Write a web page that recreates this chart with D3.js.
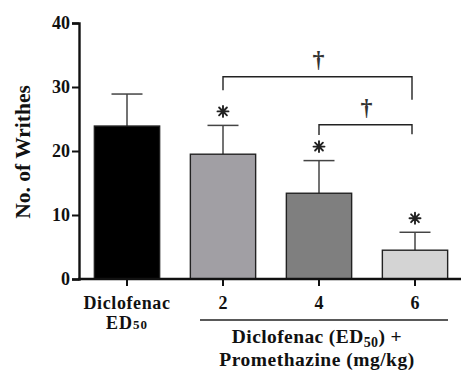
<!DOCTYPE html>
<html>
<head>
<meta charset="utf-8">
<script src="https://cdn.jsdelivr.net/npm/d3@7"></script>
<style>
  body { margin: 0; background: #fff; }
  text { font-family: "Liberation Serif", "Times New Roman", serif; font-weight: bold; fill: #111; }
</style>
</head>
<body>
<div id="chart"></div>
<script>
var groups = ["dic", "p2", "p4", "p6"];
var means = [23.9, 19.5, 13.4, 4.5];
var errs = [5.0, 4.5, 5.1, 2.8];
var fills = ["#000000", "#a19fa4", "#7f7f7f", "#d4d4d4"];
var stars = [false, true, true, true];
var yTicks = [0, 10, 20, 30, 40];
var brackets = [
  { from: "p2", to: "p6", y: 31.6, left: 29.5, right: 28.0 },
  { from: "p4", to: "p6", y: 24.1, left: 22.5, right: 22.6 }
];

var chart = {};
chart.w = 462;
chart.h = 376;

chart.svg = d3.select("#chart")
  .append("svg")
  .attr("width", chart.w)
  .attr("height", chart.h);

chart.x = d3.scaleBand()
  .domain(groups)
  .range([79, 463])
  .paddingInner(0.32)
  .paddingOuter(0.16);

chart.y = d3.scaleLinear()
  .domain([0, 40])
  .range([279, 23]);

var cx = function(d) { return chart.x(d) + chart.x.bandwidth() / 2; };
var g = chart.svg.append("g");

// error bars
g.selectAll(".err")
  .data(groups)
  .enter().append("g")
  .attr("class", "err")
  .each(function(d, i) {
    var top = chart.y(means[i] + errs[i]);
    var s = d3.select(this);
    s.append("line")
      .attr("x1", cx(d)).attr("x2", cx(d))
      .attr("y1", chart.y(means[i])).attr("y2", top)
      .style("stroke", "#444").style("stroke-width", 1.5);
    s.append("line")
      .attr("x1", cx(d) - 15.5).attr("x2", cx(d) + 15.5)
      .attr("y1", top).attr("y2", top)
      .style("stroke", "#444").style("stroke-width", 1.5);
  });

// bars
g.selectAll(".bar")
  .data(groups)
  .enter().append("rect")
  .attr("class", "bar")
  .attr("x", function(d) { return chart.x(d); })
  .attr("width", chart.x.bandwidth())
  .attr("y", function(d, i) { return chart.y(means[i]); })
  .attr("height", function(d, i) { return chart.y(0) - chart.y(means[i]); })
  .style("fill", function(d, i) { return fills[i]; })
  .style("stroke", "#222")
  .style("stroke-width", 1.4);

// asterisks, drawn as 8 spokes
g.selectAll(".star")
  .data(groups.filter(function(d, i) { return stars[i]; }))
  .enter().append("path")
  .attr("class", "star")
  .attr("transform", function(d) {
    var i = groups.indexOf(d);
    return "translate(" + cx(d) + "," + (chart.y(means[i] + errs[i]) - 14) + ")";
  })
  .attr("d", "M0,-5.5V5.5M-5.5,0H5.5M-3.9,-3.9L3.9,3.9M-3.9,3.9L3.9,-3.9")
  .style("stroke", "#222")
  .style("stroke-width", 1.9)
  .style("stroke-linecap", "round");

// brackets
brackets.forEach(function(b) {
  var x1 = cx(b.from);
  var x2 = cx(b.to) - 3;
  var yy = chart.y(b.y);
  g.append("path")
    .attr("d", "M" + x1 + "," + chart.y(b.left) + "V" + yy + "H" + x2 + "V" + chart.y(b.right))
    .style("fill", "none")
    .style("stroke", "#222")
    .style("stroke-width", 1.4);
  g.append("text")
    .attr("x", (x1 + x2) / 2 + 1)
    .attr("y", yy - 10)
    .attr("text-anchor", "middle")
    .style("font-size", "24px")
    .style("fill", "#333")
    .text("\u2020");
});

// y axis
var yAxis = chart.svg.append("g")
  .attr("transform", "translate(79,0)")
  .call(d3.axisLeft(chart.y).tickValues(yTicks).tickSize(7).tickPadding(2));
yAxis.select(".domain").style("stroke", "#111").style("stroke-width", 2.4);
yAxis.selectAll(".tick line").style("stroke", "#111").style("stroke-width", 2);
yAxis.selectAll(".tick text")
  .style("font-size", "18px")
  .style("font-family", "Liberation Serif, serif")
  .style("font-weight", "bold")
  .style("fill", "#111");

// x axis
var xAxis = chart.svg.append("g")
  .attr("transform", "translate(0,279)")
  .call(d3.axisBottom(chart.x).tickSize(7).tickSizeOuter(0).tickFormat(""));
xAxis.select(".domain").attr("d", "M78,0H461").style("stroke", "#111").style("stroke-width", 2.4);
xAxis.selectAll(".tick line").style("stroke", "#111").style("stroke-width", 2);

// x labels
var xl = chart.svg.append("g").style("font-size", "18px");
xl.append("text").attr("x", cx("dic")).attr("y", 309).attr("text-anchor", "middle")
  .style("letter-spacing", "0.6px").text("Diclofenac");
var ed = xl.append("text").attr("x", cx("dic")).attr("y", 329).attr("text-anchor", "middle")
  .style("letter-spacing", "1px");
ed.append("tspan").text("ED");
ed.append("tspan").style("font-size", "13px").text("50");
["p2", "p4", "p6"].forEach(function(d, i) {
  xl.append("text").attr("x", cx(d)).attr("y", 309).attr("text-anchor", "middle").text(["2", "4", "6"][i]);
});

chart.svg.append("line")
  .attr("x1", 200).attr("x2", 448)
  .attr("y1", 320).attr("y2", 320)
  .style("stroke", "#222").style("stroke-width", 1.4);

var t1 = xl.append("text").attr("x", 317).attr("y", 343).attr("text-anchor", "middle")
  .style("font-size", "19.5px").style("letter-spacing", "0.4px");
t1.append("tspan").text("Diclofenac (ED");
t1.append("tspan").attr("dy", 4).style("font-size", "14px").text("50");
t1.append("tspan").attr("dy", -4).text(") +");
xl.append("text").attr("x", 317).attr("y", 366).attr("text-anchor", "middle")
  .style("font-size", "19.5px").style("letter-spacing", "0.5px")
  .text("Promethazine (mg/kg)");

// y title
chart.svg.append("text")
  .attr("transform", "translate(30,152) rotate(-90)")
  .attr("text-anchor", "middle")
  .style("font-size", "21.5px")
  .text("No. of Writhes");
</script>
</body>
</html>
